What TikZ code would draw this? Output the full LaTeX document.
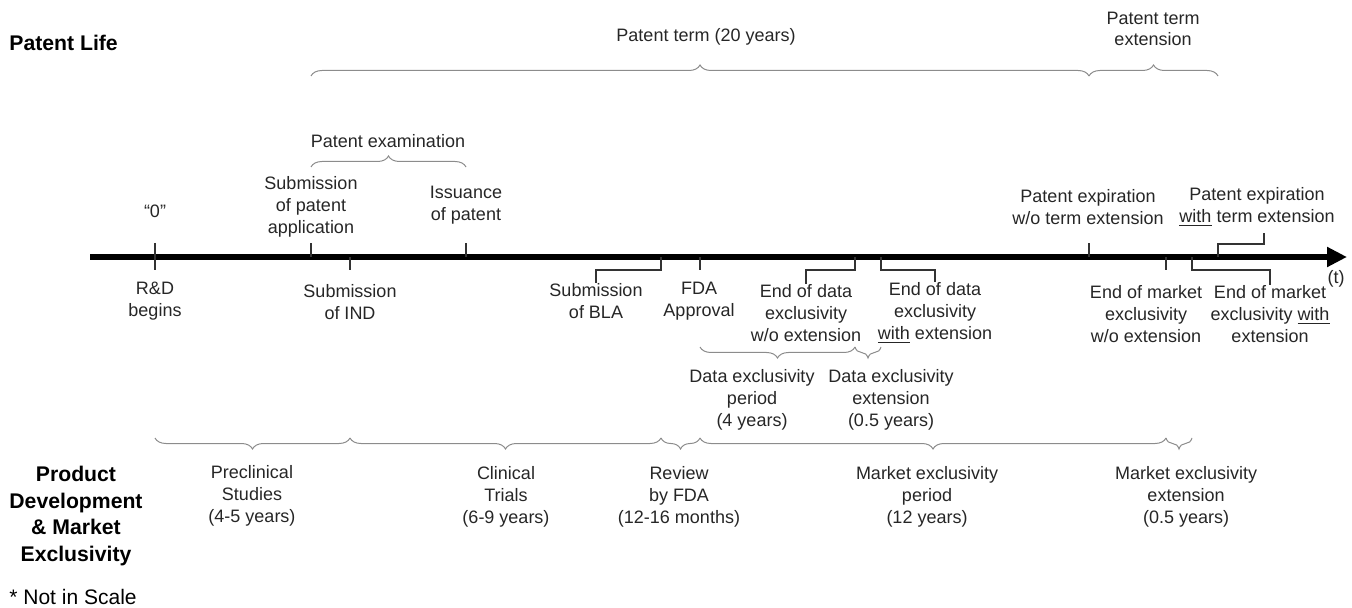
\documentclass[tikz,border=0pt]{standalone}
\usepackage{fontspec}
\setmainfont{Liberation Sans}
\usetikzlibrary{arrows.meta,calc,positioning,decorations.pathreplacing}

\begin{document}
\begin{tikzpicture}[x=0.5pt,y=-0.5pt,
  lbl/.style={align=center,inner sep=0pt,text=black!85,font=\fontsize{9}{10.9}\selectfont},
  heading/.style={align=center,inner sep=0pt,font=\fontsize{10.6}{13.2}\selectfont\bfseries},
  axis/.style={line width=3.4pt,-{Triangle[length=10pt,width=9.5pt]}},
  tick/.style={line width=0.6pt,black!80},
  leader/.style={line width=0.6pt,black!80},
  bracetop/.style={decorate,decoration={brace,amplitude=5.5pt},draw=black!45,line width=0.5pt},
  bracebot/.style={decorate,decoration={brace,mirror,amplitude=5.5pt},draw=black!45,line width=0.5pt}
]
\useasboundingbox (0,0) rectangle (1352,608);

% ===== TIME AXIS =====
\coordinate (start) at (90,257);
\coordinate (stop) at (1347,257);
\draw[axis] (start) -- (stop);
\node[lbl] (t) at (1336,279) {(t)};

\coordinate (tzero) at (155,257);
\coordinate (tapp) at (311,257);
\coordinate (tind) at (350,257);
\coordinate (tiss) at (466,257);
\coordinate (tbla) at (661,257);
\coordinate (tfda) at (700,257);
\coordinate (tdwo) at (855,257);
\coordinate (tdw) at (881,257);
\coordinate (tpwo) at (1089,257);
\coordinate (tmwo) at (1166,257);
\coordinate (tmw) at (1192,257);
\coordinate (tpw) at (1218,257);

% ===== SECTION TITLES =====
\node[heading,anchor=west] (life) at (9,43) {Patent Life};
\node[heading] (pdme) at (76,516) {Product\\Development\\\& Market\\Exclusivity};
\node[lbl,anchor=west,text=black,font=\fontsize{10.5}{12}\selectfont] (note) at (9,597) {* Not in Scale};

% ===== PATENT LIFE (above the axis) =====
\node[lbl] (zero) at (155,211) {“0”};
\node[lbl] (app) at (311,207) {Submission\\of patent\\application};
\node[lbl] (iss) at (466,205) {Issuance\\of patent};
\node[lbl] (expwo) at (1088,207) {Patent expiration\\w/o term extension};
\node[lbl] (expw) at (1257,207) {Patent expiration\\\underline{with} term extension};

\draw[tick] ($(tzero)+(0,-14)$) -- ($(tzero)+(0,13)$);
\draw[tick] (tapp) -- ++(0,-14);
\draw[tick] (tiss) -- ++(0,-14);
\draw[tick] (tpwo) -- ++(0,-14);
\draw[leader] (tpw) -- ++(0,-13) -| ([xshift=3.5pt,yshift=-3pt]expw.south);

\draw[bracetop] (311,167) -- (466,167);
\node[lbl] (exam) at (388,141) {Patent examination};
\draw[bracetop] (311,76) -- (1089,76);
\node[lbl] (term) at (706,37) {Patent term (20 years)};
\draw[bracetop] (1089,76) -- (1218,76);
\node[lbl] (termext) at (1153,29) {Patent term\\extension};

% ===== MILESTONES (below the axis) =====
\node[lbl] (rd) at (155,301) {R\&D\\begins};
\node[lbl] (ind) at (350,302) {Submission\\of IND};
\node[lbl] (bla) at (596,301) {Submission\\of BLA};
\node[lbl] (fda) at (699,301) {FDA\\Approval};
\node[lbl] (dwo) at (806,313) {End of data\\exclusivity\\w/o extension};
\node[lbl] (dw) at (935,313) {End of data\\exclusivity\\\underline{with} extension};
\node[lbl] (mwo) at (1146,314) {End of market\\exclusivity\\w/o extension};
\node[lbl] (mw) at (1270,314) {End of market\\exclusivity \underline{with}\\extension};

\draw[tick] (tind) -- ++(0,13);
\draw[tick] (tfda) -- ++(0,13);
\draw[tick] (tmwo) -- ++(0,13);
\draw[leader] (tbla) -- ++(0,13) -| (bla.north);
\draw[leader] (tdwo) -- ++(0,13) -| (dwo.north);
\draw[leader] (tdw) -- ++(0,13) -| (dw.north);
\draw[leader] (tmw) -- ++(0,13) -| (mw.north);

% ===== DATA EXCLUSIVITY =====
\draw[bracebot] (700,347) -- (855,347);
\draw[bracebot] (855,347) -- (881,347);
\node[lbl] (dper) at (752,400) {Data exclusivity\\period\\(4 years)};
\node[lbl] (dext) at (891,400) {Data exclusivity\\extension\\(0.5 years)};

% ===== PRODUCT DEVELOPMENT & MARKET EXCLUSIVITY =====
\draw[bracebot] (155,438) -- (350,438);
\draw[bracebot] (350,438) -- (661,438);
\draw[bracebot] (661,438) -- (700,438);
\draw[bracebot] (700,438) -- (1166,438);
\draw[bracebot] (1166,438) -- (1192,438);

\node[lbl] (pre) at (252,496) {Preclinical\\Studies\\(4-5 years)};
\node[lbl] (clin) at (506,497) {Clinical\\Trials\\(6-9 years)};
\node[lbl] (rev) at (679,497) {Review\\by FDA\\(12-16 months)};
\node[lbl] (mper) at (927,497) {Market exclusivity\\period\\(12 years)};
\node[lbl] (mext) at (1186,497) {Market exclusivity\\extension\\(0.5 years)};

\end{tikzpicture}
\end{document}
